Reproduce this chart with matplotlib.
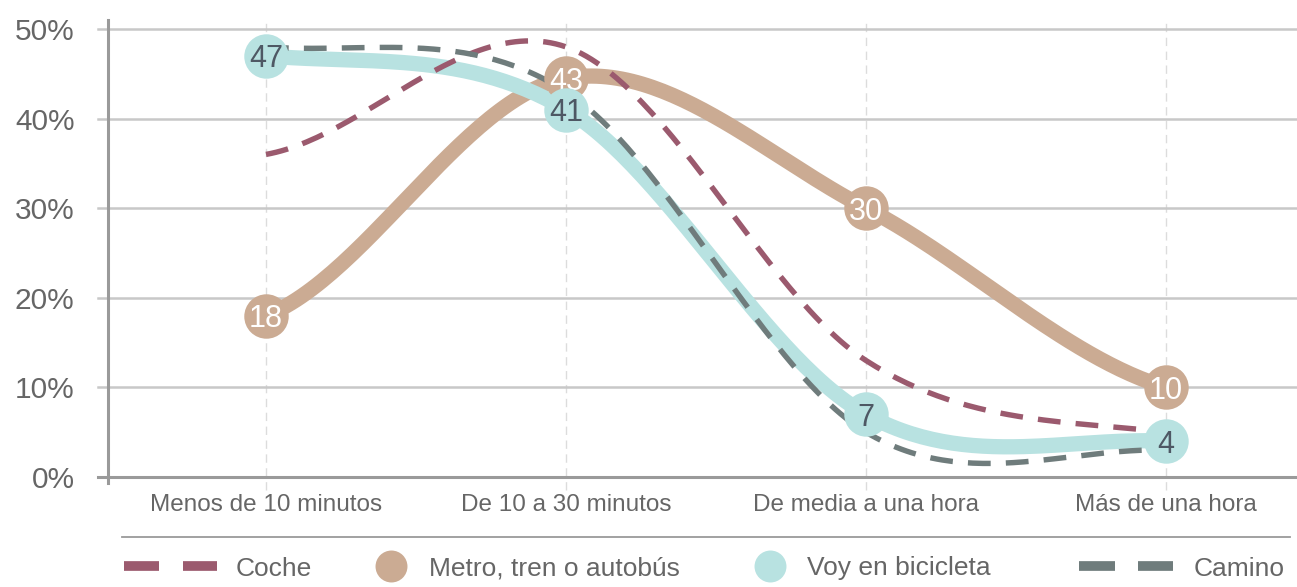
import numpy as np
import matplotlib
matplotlib.use("Agg")
import matplotlib.pyplot as plt

plt.rcParams["font.family"] = ["Liberation Sans", "DejaVu Sans"]

categorias = ["Menos de 10 minutos", "De 10 a 30 minutos", "De media a una hora", "Más de una hora"]
coche = [36, 48, 13, 5]
metro = [18, 44.5, 30, 10]
metro_etiquetas = ["18", "43", "30", "10"]
bici = [47, 41, 7, 4]
bici_etiquetas = ["47", "41", "7", "4"]
camino = [48, 43, 5, 3]
y_ticks = [0, 10, 20, 30, 40, 50]

C_COCHE = "#9b5a6e"
C_METRO = "#cbab93"
C_BICI = "#b8e2e1"
C_CAMINO = "#6f7c7c"
C_TEXTO = "#666666"


def suavizar(valores, pasos=60):
    # catmull-rom (tension 0), extremos duplicados
    p = np.asarray(valores, dtype=float)
    n = len(p)
    xs, ys = [], []
    for i in range(n - 1):
        p0 = p[max(i - 1, 0)]
        p1 = p[i]
        p2 = p[i + 1]
        p3 = p[min(i + 2, n - 1)]
        m1 = (p2 - p0) / 2 if i > 0 else (p2 - p1) / 2
        m2 = (p3 - p1) / 2 if i + 2 < n else (p2 - p1) / 2
        t = np.linspace(0, 1, pasos)
        h00 = 2 * t**3 - 3 * t**2 + 1
        h10 = t**3 - 2 * t**2 + t
        h01 = -2 * t**3 + 3 * t**2
        h11 = t**3 - t**2
        xs.append(i + t)
        ys.append(h00 * p1 + h10 * m1 + h01 * p2 + h11 * m2)
    return np.concatenate(xs), np.concatenate(ys)


fig = plt.figure(figsize=(12.97, 5.87), dpi=100)
ax = fig.add_axes([108 / 1297, 110 / 587, 1189 / 1297, 457 / 587])

x = np.arange(len(categorias))
ax.set_xlim((108 - 266) / 300, (1297 - 266) / 300)
ax.set_ylim(0, 51)

for s in ax.spines.values():
    s.set_visible(False)

# rejilla
for v in y_ticks[1:]:
    ax.axhline(v, xmin=-10 / 1189, xmax=1, color="#c8c8c8", lw=1.8, clip_on=False, zorder=1)
ax.axhline(0, xmin=-10 / 1189, xmax=1, color="#9a9a9a", lw=2.2, clip_on=False, zorder=2)
ax.axvline(ax.get_xlim()[0], ymin=-6 / 457, ymax=1, color="#9a9a9a", lw=2.2, clip_on=False, zorder=2)
for xi in x:
    ax.axvline(xi, ymin=-13 / 457, ymax=1, color="#dcdcdc", lw=1.0, dashes=(6, 4), clip_on=False, zorder=0)

ax.set_yticks(y_ticks)
ax.set_yticklabels([f"{v}%" for v in y_ticks])
ax.set_xticks(x)
ax.set_xticklabels(categorias)
ax.tick_params(axis="y", length=0, pad=24, labelsize=21.5, labelcolor=C_TEXTO)
ax.tick_params(axis="x", length=0, pad=12, labelsize=17.5, labelcolor=C_TEXTO)

# lineas
sx, sy = suavizar(metro)
ax.plot(sx, sy, color=C_METRO, lw=11, solid_capstyle="round", zorder=3)
sx, sy = suavizar(bici)
ax.plot(sx, sy, color=C_BICI, lw=11, solid_capstyle="round", zorder=4)
sx, sy = suavizar(coche)
ax.plot(sx, sy, color=C_COCHE, lw=3.9, dashes=(4.2, 2.8), zorder=5)
sx, sy = suavizar(camino)
ax.plot(sx, sy, color=C_CAMINO, lw=3.9, dashes=(4.2, 2.8), zorder=6)

# burbujas
ax.plot(x, metro, "o", ms=32, color=C_METRO, mec="none", zorder=7, clip_on=False)
for xi, v, t in zip(x, metro, metro_etiquetas):
    ax.text(xi, v, t, ha="center", va="center_baseline", fontsize=22, color="white", zorder=8)
ax.plot(x, bici, "o", ms=32, color=C_BICI, mec="none", zorder=9, clip_on=False)
for xi, v, t in zip(x, bici, bici_etiquetas):
    ax.text(xi, v, t, ha="center", va="center_baseline", fontsize=22, color="#4e5864", zorder=10)

# leyenda
leg = fig.add_axes([0, 0, 1, 1], facecolor="none")
leg.set_xlim(0, 1297)
leg.set_ylim(587, 0)
leg.axis("off")
leg.plot([122, 1290], [537, 537], color="#9a9a9a", lw=1.3)
ly = 566
leg.plot([124, 159], [ly, ly], color=C_COCHE, lw=7, solid_capstyle="butt")
leg.plot([183, 217], [ly, ly], color=C_COCHE, lw=7, solid_capstyle="butt")
leg.text(236, ly, "Coche", fontsize=19, color=C_TEXTO, va="center_baseline")
leg.plot([391], [ly], "o", ms=23, color=C_METRO, mec="none")
leg.text(429, ly, "Metro, tren o autobús", fontsize=19, color=C_TEXTO, va="center_baseline")
leg.plot([770], [ly], "o", ms=23, color=C_BICI, mec="none")
leg.text(807, ly, "Voy en bicicleta", fontsize=19, color=C_TEXTO, va="center_baseline")
leg.plot([1079, 1115], [ly, ly], color=C_CAMINO, lw=7, solid_capstyle="butt")
leg.plot([1138, 1173], [ly, ly], color=C_CAMINO, lw=7, solid_capstyle="butt")
leg.text(1194, ly, "Camino", fontsize=19, color=C_TEXTO, va="center_baseline")

fig.savefig("out.png", dpi=100)
